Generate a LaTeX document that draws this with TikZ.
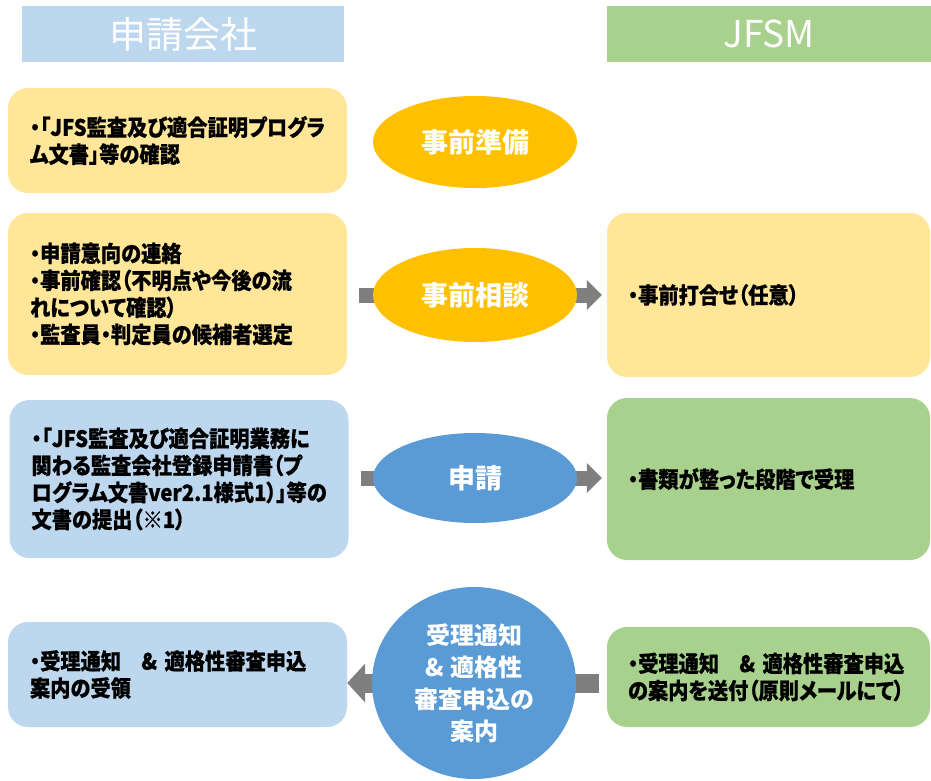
\documentclass[tikz,border=0pt]{standalone}
\usepackage{fontspec}
\setmainfont{Noto Sans CJK JP}
\newfontfamily\cardfont{Noto Sans CJK JP}[FakeStretch=0.9, CharacterWidth=AlternateProportional,
    BoldFeatures={FakeBold=0.6}]
\usepackage{tikz}
\usetikzlibrary{positioning, arrows.meta, shapes.geometric}

\definecolor{hdblue}{HTML}{BDD7EE}
\definecolor{hdgreen}{HTML}{A9D18E}
\definecolor{pale}{HTML}{FFE699}
\definecolor{amber}{HTML}{FFC000}
\definecolor{sky}{HTML}{5B9BD5}
\definecolor{flowgray}{HTML}{7F7F7F}

\pgfdeclarelayer{back}
\pgfsetlayers{back,main}

\begin{document}
\begin{tikzpicture}[
    x=1pt, y=-1pt,
    head/.style={rectangle, minimum height=56pt, inner sep=0pt, text=white,
                 font=\fontsize{37}{42}\selectfont},
    card/.style={rectangle, rounded corners=20pt, inner ysep=0pt, align=left,
                 font=\cardfont\bfseries\fontsize{22.5}{27}\selectfont},
    lcard/.style={card, inner xsep=22pt, text width=295pt},
    rcard/.style={card, inner xsep=21pt, text width=281pt},
    oval/.style={ellipse, minimum width=204pt, inner sep=0pt, text=white, align=center,
                 font=\bfseries\fontsize{27}{30}\selectfont},
    flow/.style={draw=flowgray, line width=15pt, -{Triangle[length=15pt, width=29pt]}},
    flowbig/.style={draw=flowgray, line width=19pt, -{Triangle[length=18pt, width=38pt]}}
]
    \useasboundingbox (0,0) rectangle (931,780);

    % Column heads
    \node[head, fill=hdblue, minimum width=322pt] (hdL) at (183, 34) {申請会社};
    \node[head, fill=hdgreen, minimum width=324pt] (hdR) at (769, 34) {JFSM};

    % Step 1
    \node[lcard, fill=pale, minimum height=105pt] (pre1) at (177.5, 140.5)
        {・「JFS監査及び適合証明プログラ\\ム文書」等の確認};
    \node[oval, fill=amber, minimum height=92pt] (el1) at (475, 142) {事前準備};

    % Step 2
    \node[lcard, fill=pale, minimum height=162pt] (pre2) at (177.5, 294)
        {・申請意向の連絡\\・事前確認（不明点や今後の流\\れについて確認）\\・監査員・判定員の候補者選定};
    \node[oval, fill=amber, minimum height=94pt] (el2) at (475, 295) {事前相談};
    \node[rcard, fill=pale, minimum height=164pt] (jf2) at (768.5, 295) {・事前打合せ（任意）};

    % Step 3
    \node[lcard, fill=hdblue, minimum height=158pt] (pre3) at (179, 479)
        {・「JFS監査及び適合証明業務に\\関わる監査会社登録申請書（プ\\ログラム文書ver2.1様式1）」等の\\文書の提出（※1）};
    \node[oval, fill=sky, minimum height=90pt] (el3) at (475, 478) {申請};
    \node[rcard, fill=hdgreen, minimum height=162pt] (jf3) at (768.5, 479) {・書類が整った段階で受理};

    % Step 4
    \node[lcard, fill=hdblue, minimum height=105pt] (pre4) at (177.5, 674.5)
        {・受理通知　\& 適格性審査申込\\案内の受領};
    \node[oval, fill=sky, minimum height=192pt, font=\bfseries\fontsize{24}{32}\selectfont]
        (el4) at (474, 683) {受理通知\\\& 適格性\\審査申込の\\案内};
    \node[rcard, fill=hdgreen, minimum height=100pt] (jf4) at (768.5, 677)
        {・受理通知　\& 適格性審査申込\\の案内を送付（原則メールにて）};

    % Flow arrows behind the ovals
    \begin{pgfonlayer}{back}
        \draw[flow] ([xshift=12pt]el2 -| pre2.east) -- ([xshift=-5pt]el2 -| jf2.west);
        \draw[flow] ([xshift=12pt]el3 -| pre3.east) -- ([xshift=-5pt]el3 -| jf3.west);
        \draw[flowbig] ([xshift=-8pt]el4 -| jf4.west) -- (el4 -| pre4.east);
    \end{pgfonlayer}

\end{tikzpicture}
\end{document}
